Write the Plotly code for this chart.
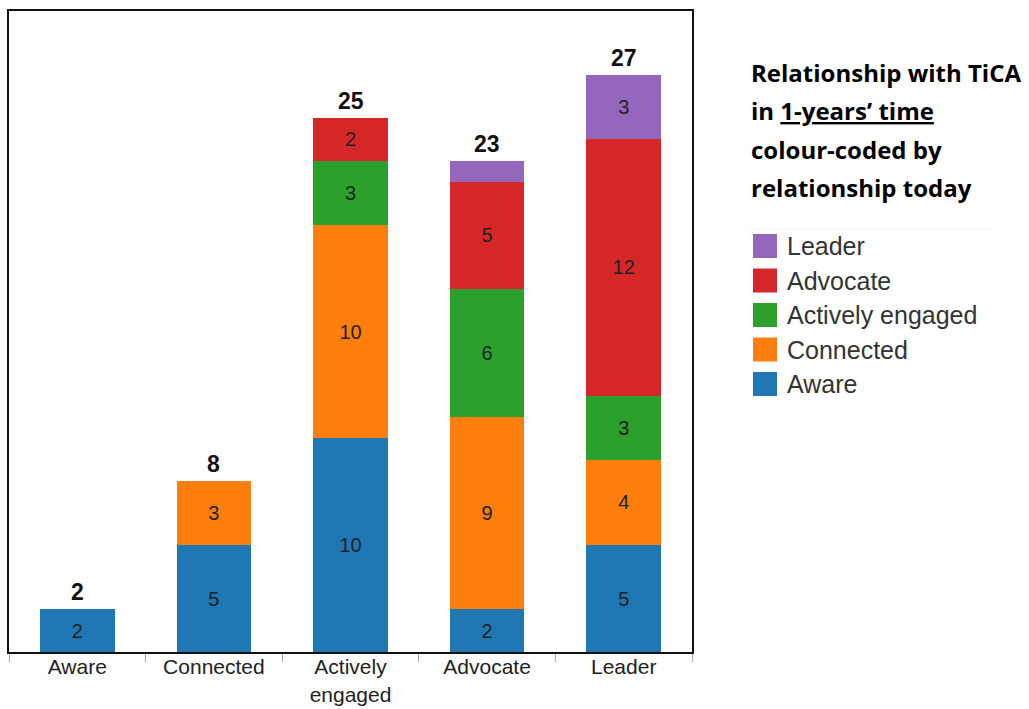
import plotly.graph_objects as go

# Relationship with TiCA in one year's time (x), stacked by relationship today
categories = ["Aware", "Connected", "Actively engaged", "Advocate", "Leader"]
tick_labels = ["Aware", "Connected", "Actively<br>engaged", "Advocate", "Leader"]

aware = [2, 5, 10, 2, 5]
connected = [0, 3, 10, 9, 4]
actively_engaged = [0, 0, 3, 6, 3]
advocate = [0, 0, 2, 5, 12]
leader = [0, 0, 0, 1, 3]

series = [
    ("Aware", aware, "#1f77b4"),
    ("Connected", connected, "#ff7f0e"),
    ("Actively engaged", actively_engaged, "#2ca02c"),
    ("Advocate", advocate, "#d62728"),
    ("Leader", leader, "#9467bd"),
]

totals = [sum(v) for v in zip(aware, connected, actively_engaged, advocate, leader)]

W, H = 1029, 709
M_L, M_R, M_T, M_B = 9, 337, 11, 57
PW, PH = W - M_L - M_R, H - M_T - M_B


def px_x(x):
    return (x - M_L) / PW


def px_y(y):
    return (H - M_B - y) / PH


fig = go.Figure()

for name, vals, color in series:
    fig.add_trace(go.Bar(
        x=categories,
        y=vals,
        name=name,
        marker=dict(color=color, line=dict(width=0)),
        text=[str(v) if v > 1 else "" for v in vals],
        textposition="inside",
        insidetextanchor="middle",
        textangle=0,
        constraintext="none",
        textfont=dict(family="Liberation Sans, Arial, sans-serif", size=20, color="#222222"),
        showlegend=False,
        hoverinfo="skip",
    ))

# totals above each stack
for cat, tot in zip(categories, totals):
    fig.add_annotation(
        x=cat, y=tot, xref="x", yref="y",
        text=f"<b>{tot}</b>", showarrow=False,
        yanchor="bottom", yshift=2,
        font=dict(family="Liberation Sans, Arial, sans-serif", size=23, color="#111111"),
    )

# heading to the right of the chart
title_lines = [
    "<b>Relationship with TiCA</b>",
    "<b>in <u>1-years’ time</u></b>",
    "<b>colour-coded by</b>",
    "<b>relationship today</b>",
]
for i, line in enumerate(title_lines):
    fig.add_annotation(
        x=px_x(749), y=px_y(73 + 38 * i), xref="paper", yref="paper",
        text=line, showarrow=False, xanchor="left", yanchor="middle",
        font=dict(family="Open Sans, sans-serif", size=24, color="#000000"),
    )

# legend, top entry first
fig.add_shape(type="line", xref="paper", yref="paper",
              x0=px_x(750), x1=px_x(992), y0=px_y(229), y1=px_y(229),
              line=dict(color="#eeeeee", width=1))
for i, (name, _, color) in enumerate(reversed(series)):
    cy = 246 + 34.5 * i
    fig.add_shape(type="rect", xref="paper", yref="paper",
                  x0=px_x(753), x1=px_x(777), y0=px_y(cy - 12), y1=px_y(cy + 12),
                  fillcolor=color, line=dict(width=0))
    fig.add_annotation(
        x=px_x(785), y=px_y(cy), xref="paper", yref="paper",
        text=name, showarrow=False, xanchor="left", yanchor="middle",
        font=dict(family="Liberation Sans, Arial, sans-serif", size=25, color="#333333"),
    )

fig.update_layout(
    width=W, height=H,
    margin=dict(l=M_L, r=M_R, t=M_T, b=M_B, autoexpand=False),
    barmode="stack",
    bargap=0.455,
    plot_bgcolor="white",
    paper_bgcolor="white",
    showlegend=False,
    xaxis=dict(
        tickvals=categories, ticktext=tick_labels,
        automargin=False,
        showline=True, linecolor="#111111", linewidth=2, mirror=True,
        ticks="outside", tickson="boundaries", ticklen=8, tickcolor="#aaaaaa",
        ticklabelstandoff=-5,
        tickfont=dict(family="Liberation Sans, Arial, sans-serif", size=21, color="#222222"),
        showgrid=False,
    ),
    yaxis=dict(
        range=[0, 30],
        automargin=False,
        showline=True, linecolor="#111111", linewidth=2, mirror=True,
        showticklabels=False, ticks="", showgrid=False, zeroline=False,
    ),
)

fig.write_html("out.html")
